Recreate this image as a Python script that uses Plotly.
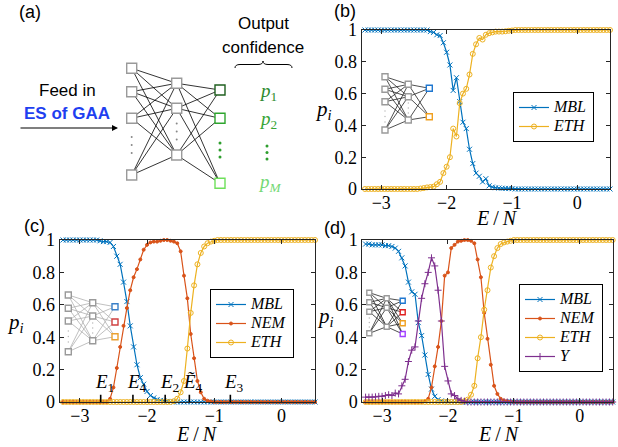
import plotly.graph_objects as go

# ---------------- data ----------------
E_N = [-3.25, -3.2, -3.15, -3.1, -3.05, -3.0, -2.95, -2.9, -2.85, -2.8, -2.75, -2.7, -2.65, -2.6,
       -2.55, -2.5, -2.45, -2.4, -2.35, -2.3, -2.25, -2.2, -2.15, -2.1, -2.05, -2.0, -1.95, -1.9,
       -1.85, -1.8, -1.75, -1.7, -1.65, -1.6, -1.55, -1.5, -1.45, -1.4, -1.35, -1.3, -1.25, -1.2,
       -1.15, -1.1, -1.05, -1.0, -0.95, -0.9, -0.85, -0.8, -0.75, -0.7, -0.65, -0.6, -0.55, -0.5,
       -0.45, -0.4, -0.35, -0.3, -0.25, -0.2, -0.15, -0.1, -0.05, 0.0, 0.05, 0.1, 0.15, 0.2, 0.25,
       0.3, 0.35, 0.4, 0.45, 0.5]

# panel (b)
b_MBL = [1.0] * 18 + [1.0, 1.0, 0.99, 0.985, 0.97, 0.965, 0.92, 0.86, 0.78, 0.62, 0.70, 0.55, 0.42,
                      0.38, 0.25, 0.16, 0.10, 0.08, 0.045, 0.065, 0.02, 0.012, 0.008, 0.006, 0.005,
                      0.004, 0.003, 0.002] + [0.0] * 30
b_ETH = [0.0] * 16 + [0.0, 0.003, 0.006, 0.01, 0.012, 0.015, 0.03, 0.045, 0.10, 0.14, 0.20, 0.38,
                      0.33, 0.54, 0.60, 0.63, 0.72, 0.85, 0.91, 0.95, 0.94, 0.97, 0.98, 0.985, 0.99,
                      0.99, 0.99, 0.992, 0.995, 0.997] + [1.0] * 30

# panel (c)
c_MBL = [1.0] * 10 + [1.0, 0.995, 0.99, 0.99, 0.985, 0.96, 0.90, 0.85, 0.74, 0.62, 0.47, 0.34, 0.23,
                      0.15, 0.11, 0.065, 0.04, 0.025, 0.015, 0.01, 0.006, 0.004, 0.002] + [0.0] * 43
c_NEM = [0.0] * 14 + [0.02, 0.09, 0.21, 0.34, 0.47, 0.58, 0.69, 0.77, 0.82, 0.88, 0.94, 0.97, 0.985,
                      0.99, 0.99, 0.995, 1.0, 1.0, 0.995, 0.99, 0.98, 0.93, 0.78, 0.64, 0.42, 0.27,
                      0.13, 0.06, 0.02, 0.008, 0.003] + [0.0] * 31
c_ETH = [0.0] * 32 + [0.0, 0.005, 0.02, 0.06, 0.13, 0.33, 0.55, 0.72, 0.85, 0.92, 0.96, 0.98, 0.99,
                      0.995] + [1.0] * 30

# panel (d)
d_MBL = [0.975, 0.975, 0.97, 0.97, 0.97, 0.97, 0.965, 0.965, 0.96, 0.95, 0.93, 0.89, 0.84, 0.74,
         0.68, 0.665, 0.49, 0.41, 0.29, 0.17, 0.08, 0.035, 0.015, 0.007, 0.003] + [0.0] * 51
d_NEM = [0.0] * 18 + [0.005, 0.02, 0.09, 0.22, 0.34, 0.50, 0.78, 0.80, 0.95, 0.97, 0.99, 0.995, 1.0,
                      1.0, 0.995, 0.98, 0.88, 0.77, 0.55, 0.39, 0.23, 0.10, 0.05, 0.02, 0.01, 0.005,
                      0.002] + [0.0] * 31
d_ETH = [0.0] * 29 + [0.0, 0.005, 0.015, 0.045, 0.10, 0.27, 0.40, 0.57, 0.69, 0.83, 0.90, 0.95,
                      0.975, 0.985, 0.99, 0.995] + [1.0] * 31
d_Y = [0.03, 0.03, 0.03, 0.032, 0.035, 0.035, 0.04, 0.045, 0.04, 0.055, 0.05, 0.10, 0.14, 0.25,
       0.32, 0.34, 0.50, 0.64, 0.73, 0.80, 0.89, 0.84, 0.69, 0.50, 0.22, 0.13, 0.05, 0.04, 0.02,
       0.01, 0.005] + [0.0] * 45

# energy markers in panel (c)
E_marks = [-2.69, -2.21, -1.73, -1.37, -0.76]
E_labels = ["<i>E</i><sub>1</sub>", "<i>E</i><sub>4</sub>", "<i>E</i><sub>2</sub>",
            "<i>Ẽ</i><sub>4</sub>", "<i>E</i><sub>3</sub>"]

x_ticks = [-3, -2, -1, 0]
x_ticktext = ["−3", "−2", "−1", "0"]
y_ticks = [0, 0.2, 0.4, 0.6, 0.8, 1]
y_ticktext = ["0", "0.2", "0.4", "0.6", "0.8", "1"]

# ---------------- styles ----------------
W, H = 618, 447
SERIF = "Liberation Serif"
SANS = "Liberation Sans"
BLUE, RED, YEL, PUR = "#0072BD", "#D95319", "#EDB120", "#7E2F8E"
STY = {
    "MBL": dict(color=BLUE, symbol="x-thin-open", size=5),
    "NEM": dict(color=RED, symbol="circle", size=3),
    "ETH": dict(color=YEL, symbol="circle-open", size=5),
    "Y": dict(color=PUR, symbol="cross-thin-open", size=5),
}

fig = go.Figure()


def add_series(name, vals, xa, ya, leg):
    st = STY[name]
    fig.add_trace(go.Scatter(
        x=E_N, y=vals, xaxis=xa, yaxis=ya, legend=leg, mode="lines+markers",
        name=f"<span style='font-size:16px'><i>{name}</i></span>", cliponaxis=False,
        line=dict(color=st["color"], width=1.2),
        marker=dict(symbol=st["symbol"], size=st["size"], color=st["color"],
                    line=dict(color=st["color"], width=1))))


add_series("MBL", b_MBL, "x", "y", "legend")
add_series("ETH", b_ETH, "x", "y", "legend")
add_series("MBL", c_MBL, "x2", "y2", "legend2")
add_series("NEM", c_NEM, "x2", "y2", "legend2")
add_series("ETH", c_ETH, "x2", "y2", "legend2")
add_series("MBL", d_MBL, "x3", "y3", "legend3")
add_series("NEM", d_NEM, "x3", "y3", "legend3")
add_series("ETH", d_ETH, "x3", "y3", "legend3")
add_series("Y", d_Y, "x3", "y3", "legend3")

# E markers in (c)
mx, my = [], []
for e in E_marks:
    mx += [e, e, None]
    my += [0, 0.045, None]
fig.add_trace(go.Scatter(x=mx, y=my, xaxis="x2", yaxis="y2", mode="lines", showlegend=False,
                         line=dict(color="black", width=1.6), cliponaxis=False))

# ---------------- network diagrams (overlay pixel axis) ----------------
def network(layers, out_colors, lcol, lw, nsize, ncol, dots, dotcol="#999999", dotsize=2):
    lx, ly = [], []
    for (xa_, ya_), (xb_, yb_) in zip(layers[:-1], layers[1:]):
        for y1 in ya_:
            for y2 in yb_:
                lx += [xa_, xb_, None]
                ly += [y1, y2, None]
    fig.add_trace(go.Scatter(x=lx, y=ly, xaxis="x4", yaxis="y4", mode="lines", showlegend=False,
                             line=dict(color=lcol, width=lw), hoverinfo="skip"))
    nx, ny, nc = [], [], []
    for li, (x, ys) in enumerate(layers):
        for k, y in enumerate(ys):
            nx.append(x)
            ny.append(y)
            nc.append(out_colors[k] if li == len(layers) - 1 else ncol)
    fig.add_trace(go.Scatter(x=nx, y=ny, xaxis="x4", yaxis="y4", mode="markers", showlegend=False,
                             marker=dict(symbol="square", size=nsize, color="white",
                                         line=dict(color=nc, width=1.4)), hoverinfo="skip"))
    if dots:
        fig.add_trace(go.Scatter(x=[d[0] for d in dots], y=[d[1] for d in dots], xaxis="x4", yaxis="y4",
                                 mode="markers", showlegend=False, hoverinfo="skip",
                                 marker=dict(symbol="circle", size=dotsize, color=dotcol)))


# (a) big network
network([(131.7, [68.3, 91.7, 118.3, 175]), (176.7, [83.3, 108.3, 155]), (220, [90, 118.3, 183.3])],
        ["#1f5f1f", "#2ea52e", "#6ee05a"], "black", 0.8, 10, "#9a9a9a",
        [(131.7, 137), (131.7, 145), (131.7, 153), (176.7, 123.5), (176.7, 131.5), (176.7, 139.5)],
        dotcol="#888888", dotsize=2)
fig.add_trace(go.Scatter(x=[220, 220, 220, 267, 267, 267], y=[143, 150, 157, 146, 152.5, 159],
                         xaxis="x4", yaxis="y4", mode="markers", showlegend=False, hoverinfo="skip",
                         marker=dict(size=3, color="#2e9e2e")))
# (b) mini network
network([(385, [76.7, 89.3, 101.7, 130]), (408.3, [84.3, 96.7, 120]), (429.3, [88.3, 116.7])],
        ["#1f77d0", "#f0a020"], "#222222", 0.8, 6, "#9a9a9a",
        [(385, 111), (385, 116.5), (385, 122), (408.3, 103), (408.3, 108), (408.3, 113)],
        dotcol="#bbbbbb", dotsize=1.5)
# (c) mini network
network([(68.3, [295, 308.3, 321, 351.7]), (92.7, [302.7, 316, 340.7]), (115, [306.7, 322, 336.7])],
        ["#3a80c8", "#d04040", "#eaa030"], "#b0b0b0", 0.8, 6, "#9a9a9a",
        [(68.3, 331), (68.3, 336.5), (68.3, 342), (92.7, 323), (92.7, 328), (92.7, 333)],
        dotcol="#bbbbbb", dotsize=1.5)
# (d) mini network
network([(369.3, [292.7, 302.3, 311.7, 333.3]), (386.7, [298.3, 307.7, 326.7]),
         (402.7, [300.7, 312.3, 323.3, 334])],
        ["#1f77d0", "#e02020", "#f0a020", "#a040ff"], "#222222", 0.8, 5, "#9a9a9a",
        [(369.3, 318), (369.3, 322.5), (369.3, 327)], dotcol="#bbbbbb", dotsize=1.5)

# ---------------- axes ----------------
common = dict(showline=True, linecolor="#262626", linewidth=1, mirror="ticks", ticks="inside",
              ticklen=4, tickcolor="#262626", showgrid=False, zeroline=False, automargin=False,
              tickfont=dict(family=SERIF, size=18, color="black"), fixedrange=True)


def xax(dom, anchor):
    return dict(common, domain=dom, anchor=anchor, range=[-3.3, 0.5], tickvals=x_ticks,
                ticktext=x_ticktext, ticklabelstandoff=-3)


def yax(dom, anchor):
    return dict(common, domain=dom, anchor=anchor, range=[0, 1], tickvals=y_ticks,
                ticktext=y_ticktext)


xb = [361.7 / W, 610 / W]
yb = [1 - 189 / H, 1 - 30 / H]
xc = [59.7 / W, 315 / W]
xd = [362.3 / W, 612.7 / W]
ycd = [1 - 402 / H, 1 - 240 / H]

legend_common = dict(bgcolor="white", bordercolor="black", borderwidth=1,
                     font=dict(family=SERIF, size=12, color="black"),
                     xanchor="left", yanchor="top", tracegroupgap=0, itemwidth=30)

fig.update_layout(
    width=W, height=H, autosize=False,
    margin=dict(l=0, r=0, t=0, b=0, pad=0, autoexpand=False),
    paper_bgcolor="white", plot_bgcolor="rgba(0,0,0,0)",
    xaxis=xax(xb, "y"), yaxis=yax(yb, "x"),
    xaxis2=xax(xc, "y2"), yaxis2=yax(ycd, "x2"),
    xaxis3=xax(xd, "y3"), yaxis3=yax(ycd, "x3"),
    xaxis4=dict(domain=[0, 1], range=[0, W], visible=False, anchor="y4", fixedrange=True,
                automargin=False),
    yaxis4=dict(domain=[0, 1], range=[H, 0], visible=False, anchor="x4", fixedrange=True,
                automargin=False),
    legend=dict(legend_common, x=513 / W, y=1 - 92 / H),
    legend2=dict(legend_common, x=210 / W, y=1 - 289 / H),
    legend3=dict(legend_common, x=519 / W, y=1 - 284 / H),
    showlegend=True,
)

# ---------------- text ----------------
ann = []


def txt(x, y, text, size=17, family=SANS, color="black", **kw):
    ann.append(dict(x=x, y=y, xref="x4", yref="y4", text=text, showarrow=False,
                    font=dict(family=family, size=size, color=color), **kw))


txt(30, 12, "(a)", 18)
txt(345, 11, "(b)", 18)
txt(34, 226, "(c)", 18)
txt(335, 228, "(d)", 18)
txt(67, 90, "Feed in", 17)
txt(67, 113, "<b>ES of GAA</b>", 17, color="#1f3ff0")
txt(263, 23, "Output", 17)
txt(263, 47, "confidence", 17)
txt(268, 92, "<i>p</i><sub>1</sub>", 19, SERIF, "#2e8b2e")
txt(268, 120, "<i>p</i><sub>2</sub>", 19, SERIF, "#36a536")
txt(270, 183, "<i>p</i><sub><i>M</i></sub>", 19, SERIF, "#74d874")

pi = "<i>p</i><sub><i>i</i></sub>"
txt(323, 110, pi, 21, SERIF)
txt(15, 323, pi, 21, SERIF)
txt(325, 317, pi, 21, SERIF)
EN = "<i>E</i>\u2009/\u2009<i>N</i>"
txt(497, 218, EN, 20, SERIF)
txt(197, 434, EN, 20, SERIF)
txt(499, 434, EN, 20, SERIF)

for e, lab in zip(E_marks, E_labels):
    ann.append(dict(x=e, y=0.12, xref="x2", yref="y2", text=lab, showarrow=False, xshift=4,
                    font=dict(family=SERIF, size=19, color="black")))

# arrow in (a)
ann.append(dict(x=118, y=128, xref="x4", yref="y4", ax=19, ay=128, axref="x4", ayref="y4",
                text="", showarrow=True, arrowhead=2, arrowsize=1, arrowwidth=1.2,
                arrowcolor="black"))
fig.update_layout(annotations=ann)

# brace over p column
fig.add_shape(type="path", xref="x4", yref="y4",
              path="M 235 68 Q 235 64.5 240 64.5 L 258 64.5 Q 263 64.5 263 61 "
                   "Q 263 64.5 268 64.5 L 287 64.5 Q 292 64.5 292 68",
              line=dict(color="black", width=1))

fig.write_html("out.html", config={"displayModeBar": False},
               post_script="document.body.style.margin='0px';")
